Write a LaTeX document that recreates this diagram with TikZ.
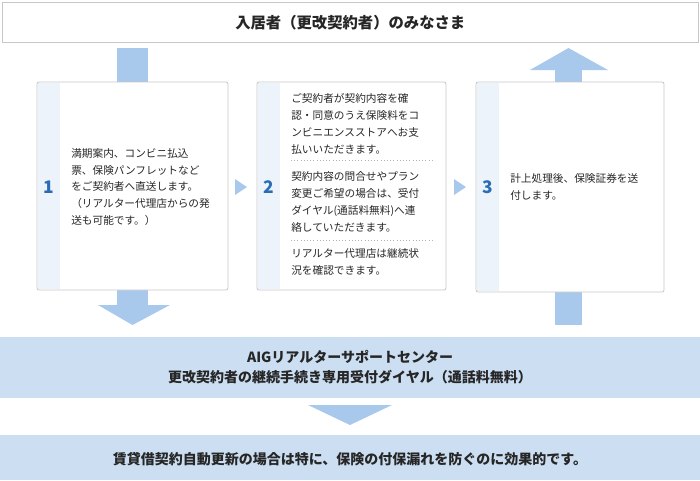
\documentclass[tikz,border=0pt]{standalone}
\usepackage{fontspec}
\setmainfont{Noto Sans CJK JP}
\begin{document}
\begin{tikzpicture}[x=0.75pt,y=-0.75pt,
  card/.style={draw=black!22,fill=white,rounded corners=1.5pt,line width=0.6pt},
  num/.style={text=numc,font=\bfseries\fontsize{13}{13}\selectfont},
  body/.style={anchor=west,align=left,font=\fontsize{8}{12.6}\selectfont,inner sep=0pt,text=black!85}]
\definecolor{arrowc}{HTML}{A8C8EC}
\definecolor{bandc}{HTML}{CCDFF2}
\definecolor{numc}{HTML}{2A6DB5}
\definecolor{stripc}{HTML}{EDF3FB}
\useasboundingbox (0,0) rectangle (700,480);
% top box
\node[draw=black!22,fill=white,minimum width=696*0.75pt,minimum height=40*0.75pt,anchor=north west,inner sep=0pt,font=\bfseries\fontsize{11.5}{12}\selectfont,text=black!85] (top) at (2,2) {入居者（更改契約者）のみなさま};
% arrows near top
\fill[arrowc] (117,48) rectangle (148,82);
\fill[arrowc] (555,70) rectangle (582,82);
\fill[arrowc] (530,70) -- (568.5,48) -- (608,70) -- cycle;
% arrows below
\fill[arrowc] (117,290) rectangle (148,305);
\fill[arrowc] (98,305) -- (170,305) -- (132.5,325) -- cycle;
\fill[arrowc] (555,292) rectangle (582,325);
% cards
\draw[card] (37,82) rectangle (228,290);
\draw[card] (257,82) rectangle (446,290);
\draw[card] (476,82) rectangle (664,292);
\fill[stripc] (38,83) rectangle (60,289);
\fill[stripc] (258,83) rectangle (280,289);
\fill[stripc] (477,83) rectangle (499,291);
\node[num] (n1) at (49,187) {1};
\node[num] (n2) at (269,187) {2};
\node[num] (n3) at (488,187) {3};
% small arrows
\fill[arrowc] (235,179) -- (247,187) -- (235,195) -- cycle;
\fill[arrowc] (454,179) -- (466,187) -- (454,195) -- cycle;
% texts
\node[body] (t1) at (71,187) {満期案内、コンビニ払込\\票、保険パンフレットなど\\をご契約者へ直送します。\\（リアルター代理店からの発\\送も可能です。）};
\node[body] (t2a) at (291,124) {ご契約者が契約内容を確\\認・同意のうえ保険料をコ\\ンビニエンスストアへお支\\払いいただきます。};
\draw[black!30,dotted] (291,160) -- (432,160);
\node[body] (t2b) at (291,202) {契約内容の問合せやプラン\\変更ご希望の場合は、受付\\ダイヤル(通話料無料)へ連\\絡していただきます。};
\draw[black!30,dotted] (291,240) -- (432,240);
\node[body] (t2c) at (291,262) {リアルター代理店は継続状\\況を確認できます。};
\node[body] (t3) at (510,187) {計上処理後、保険証券を送\\付します。};
% bands
\fill[bandc] (0,337) rectangle (700,398);
\node[align=center,font=\bfseries\fontsize{10.5}{15}\selectfont,text=black!85] (b1) at (350,367.5) {AIGリアルターサポートセンター\\更改契約者の継続手続き専用受付ダイヤル（通話料無料）};
\fill[arrowc] (308,405) -- (392,405) -- (350,425) -- cycle;
\fill[bandc] (0,435) rectangle (700,480);
\node[font=\bfseries\fontsize{10.5}{12}\selectfont,text=black!85] (b2) at (350,459) {賃貸借契約自動更新の場合は特に、保険の付保漏れを防ぐのに効果的です。};
\end{tikzpicture}
\end{document}
